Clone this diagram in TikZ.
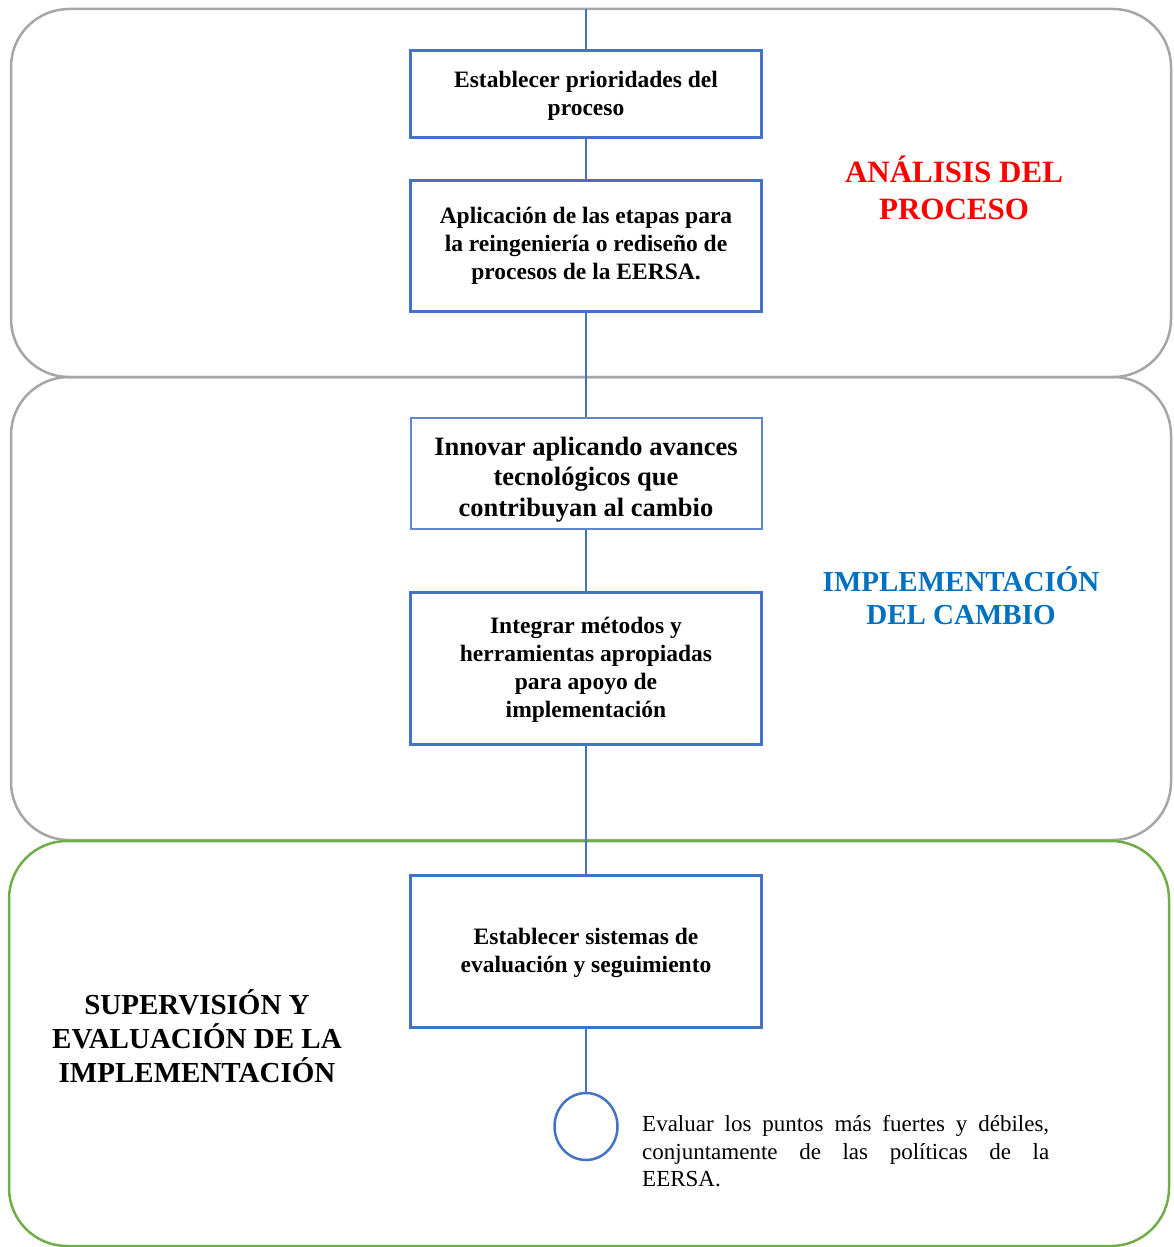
\documentclass[tikz,border=0pt]{standalone}
\usepackage{fontspec}
\setmainfont{Liberation Serif}
\usetikzlibrary{shapes.geometric}
\definecolor{boxblue}{HTML}{4472C4}
\definecolor{panelgray}{HTML}{A6A6A6}
\definecolor{panelgreen}{HTML}{70AD47}
\definecolor{titleblue}{HTML}{0070C0}
\definecolor{titlered}{HTML}{FF0000}
\begin{document}
\begin{tikzpicture}[x=1pt,y=-1pt,
  panel/.style={draw=panelgray, line width=2.5pt, rounded corners=58pt,
    minimum width=1160pt, inner sep=0pt},
  stepbox/.style={draw=boxblue, line width=3pt, fill=white, minimum width=351pt,
    align=center, inner sep=4pt, font=\bfseries\fontsize{23.5}{28}\selectfont},
  steptext/.style={align=center, inner sep=0pt, font=\bfseries\fontsize{23.5}{28}\selectfont},
  link/.style={draw=boxblue, line width=2pt},
  phase/.style={align=center, inner sep=0pt, font=\bfseries}
]
\useasboundingbox (0,0) rectangle (1174,1247);

% phase panels
\node[panel, minimum height=368pt] (p1) at (591,193) {};
\node[panel, minimum height=463pt] (p2) at (591,608.5) {};
\node[panel, draw=panelgreen, minimum height=405pt] (p3) at (589,1043.5) {};

% steps
\coordinate (top) at (586,9);
\node[stepbox, minimum height=86pt] (b1) at (586,94) {};
\node[steptext] (b1t) at (586,96) {Establecer prioridades del\\proceso};
\node[stepbox, minimum height=131pt] (b2) at (586,245.5)
  {Aplicación de las etapas para\\la reingeniería o rediseño de\\procesos de la EERSA.};
\node[stepbox, minimum height=111pt, line width=2pt, draw=boxblue!85] (b3) at (586,473.5) {};
\node[steptext, font=\bfseries\fontsize{26.5}{30.5}\selectfont]
  (b3t) at (586,479.5) {Innovar aplicando avances\\tecnológicos que\\contribuyan al cambio};
\node[stepbox, minimum height=152pt] (b4) at (586,668) {};
\node[steptext] (b4t) at (586,670)
  {Integrar métodos y\\herramientas apropiadas\\para apoyo de\\implementación};
\node[stepbox, minimum height=152pt] (b5) at (586,951) {};
\node[steptext] (b5t) at (586,953) {Establecer sistemas de\\evaluación y seguimiento};
\node[ellipse, draw=boxblue, line width=2.5pt, fill=white, minimum width=63pt,
  minimum height=67pt, inner sep=0pt] (c) at (586,1126.5) {};

% connectors
\draw[link] (top) -- (b1.north);
\draw[link] (b1.south) -- (b2.north);
\draw[link] (b2.south) -- (b3.north);
\draw[link] (b3.south) -- (b4.north);
\draw[link] (b4.south) -- (b5.north);
\draw[link] (b5.south) -- (c.north);

% phase titles
\node[phase, text=titlered, font=\bfseries\fontsize{31}{37}\selectfont] (la) at (954,187.5)
  {ANÁLISIS DEL\\PROCESO};
\node[phase, text=titleblue, font=\bfseries\fontsize{29}{33}\selectfont] (lb) at (961,595.5)
  {IMPLEMENTACIÓN\\DEL CAMBIO};
\node[phase, font=\bfseries\fontsize{29}{34}\selectfont] (lc) at (197,1036)
  {SUPERVISIÓN Y\\EVALUACIÓN DE LA\\IMPLEMENTACIÓN};

% note beside the circle
\node[anchor=north west, inner sep=0pt, text width=407pt, align=justify,
  font=\fontsize{23}{27.5}\selectfont] (note) at (642,1115.5)
  {Evaluar los puntos más fuertes y débiles,\linebreak conjuntamente de las políticas de la\linebreak EERSA.};
\end{tikzpicture}
\end{document}
